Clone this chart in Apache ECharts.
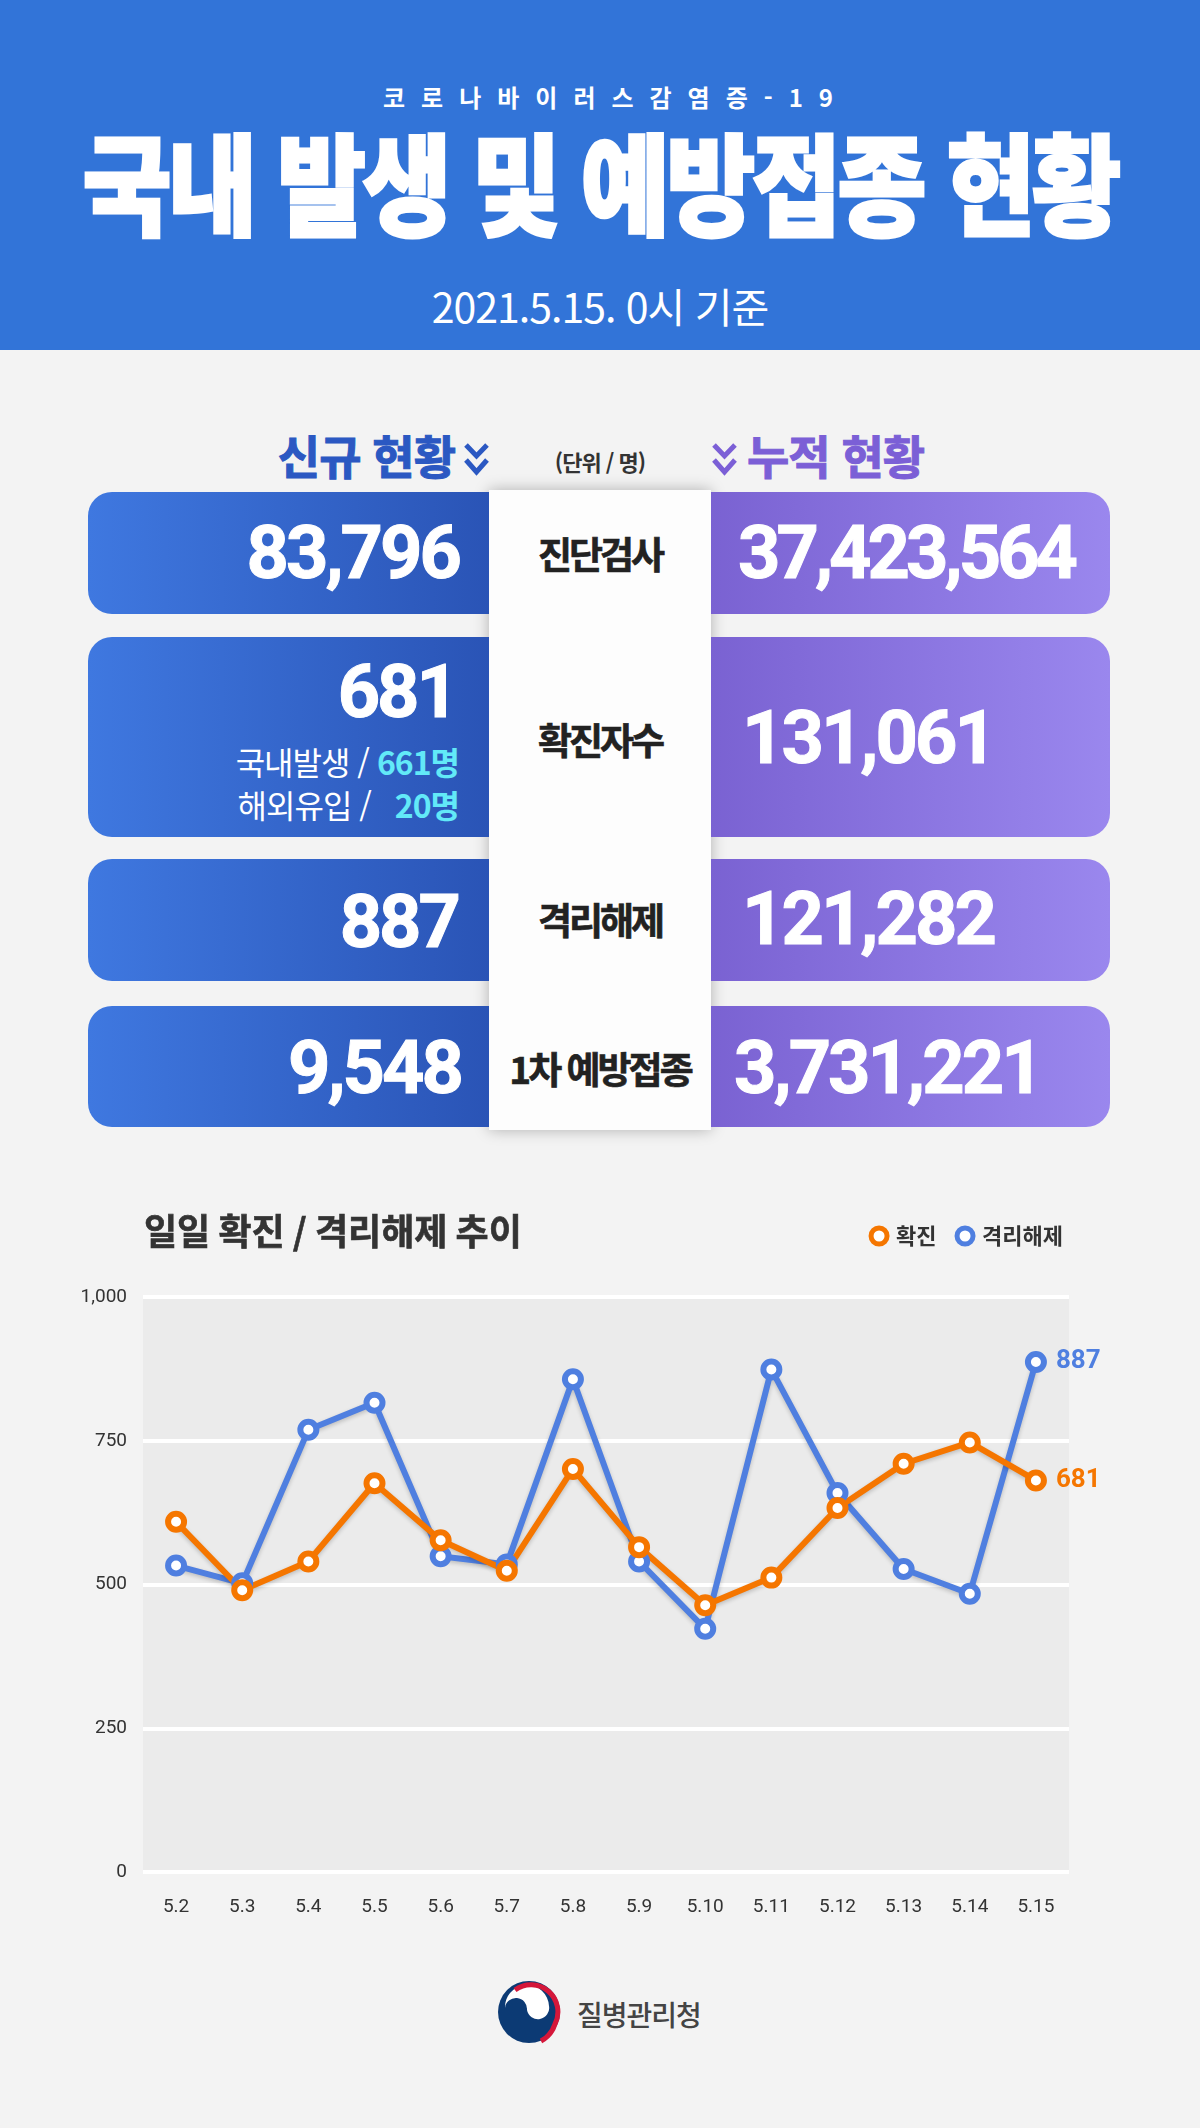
<!DOCTYPE html>
<html lang="ko">
<head>
<meta charset="utf-8">
<title>국내 발생 및 예방접종 현황</title>
<script src="https://cdn.jsdelivr.net/npm/echarts@6/dist/echarts.min.js"></script>
<style>
  html, body { margin: 0; padding: 0; }
  body {
    width: 1200px; height: 2128px; position: relative; overflow: hidden;
    background: #f3f3f3;
    font-family: 'Noto Sans CJK KR', 'Noto Sans', sans-serif;
  }
  .t { position: absolute; white-space: nowrap; line-height: 1; }
  .num { font-family: Roboto, 'Noto Sans', sans-serif; font-weight: 700; color: #fff; font-size: 74px; letter-spacing: -3px; -webkit-text-stroke: 1px #fff; }
  .lbl { font-weight: 700; color: #222; font-size: 37px; letter-spacing: -3px; text-align: center; width: 222px; left: 489px; -webkit-text-stroke: 0.6px #222; }
  .box { position: absolute; }
  .boxL { left: 88px; width: 401px; border-radius: 24px 0 0 24px; background: linear-gradient(90deg, #3f78e0, #2a54b6); }
  .boxR { left: 711px; width: 399px; border-radius: 0 24px 24px 0; background: linear-gradient(90deg, #7a62d2, #9a87ee); }
  .right { text-align: right; }
  #chart { position: absolute; left: 0; top: 1150px; width: 1200px; height: 800px; }
</style>
</head>
<body>

<!-- 상단 헤더 -->
<div style="position:absolute;left:0;top:0;width:1200px;height:350px;background:#3274d8;"></div>
<div class="t" style="left:0;width:1200px;top:85px;text-align:center;color:#fff;font-size:24px;font-weight:700;letter-spacing:16px;padding-left:16px;">코로나바이러스감염증-19</div>
<div class="t" style="left:0;width:1200px;top:124px;text-align:center;color:#fff;font-size:110px;font-weight:900;letter-spacing:-4px;transform:scaleX(0.88);-webkit-text-stroke:3px #fff;">국내 발생 및 예방접종 현황</div>
<div class="t" style="left:0;width:1200px;top:285px;text-align:center;color:#fff;font-size:41px;font-weight:400;letter-spacing:-1px;">2021.5.15. 0시 기준</div>

<!-- 섹션 제목 -->
<div class="t" style="right:745px;top:431px;color:#2b58c2;font-size:46px;font-weight:700;letter-spacing:-1px;-webkit-text-stroke:1px #2b58c2;">신규 현황</div>
<svg style="position:absolute;left:463px;top:442px;" width="27" height="36" viewBox="0 0 27 36">
  <polyline points="3,3 13.5,14 24,3" fill="none" stroke="#2b58c2" stroke-width="5"/>
  <polyline points="3,18 13.5,30 24,18" fill="none" stroke="#2b58c2" stroke-width="5"/>
</svg>
<div class="t" style="left:489px;width:222px;top:450px;text-align:center;color:#333;font-size:22px;font-weight:700;letter-spacing:-1px;">(단위 / 명)</div>
<svg style="position:absolute;left:711px;top:442px;" width="27" height="36" viewBox="0 0 27 36">
  <polyline points="3,3 13.5,14 24,3" fill="none" stroke="#7b5fd6" stroke-width="5"/>
  <polyline points="3,18 13.5,30 24,18" fill="none" stroke="#7b5fd6" stroke-width="5"/>
</svg>
<div class="t" style="left:747px;top:431px;color:#7b5fd6;font-size:46px;font-weight:700;letter-spacing:-1px;-webkit-text-stroke:1px #7b5fd6;">누적 현황</div>

<!-- 가운데 흰 띠 -->
<div style="position:absolute;left:489px;top:490px;width:222px;height:640px;background:#fdfdfd;box-shadow:0 0 14px rgba(0,0,0,0.28);"></div>

<!-- 박스 -->
<div class="box boxL" style="top:492px;height:122px;"></div>
<div class="box boxR" style="top:492px;height:122px;"></div>
<div class="box boxL" style="top:637px;height:200px;"></div>
<div class="box boxR" style="top:637px;height:200px;"></div>
<div class="box boxL" style="top:859px;height:122px;"></div>
<div class="box boxR" style="top:859px;height:122px;"></div>
<div class="box boxL" style="top:1006px;height:121px;"></div>
<div class="box boxR" style="top:1006px;height:121px;"></div>

<!-- 박스 글자 -->
<div class="t num right" style="right:741px;top:516px;">83,796</div>
<div class="t num" style="left:738px;top:516px;letter-spacing:-4px;">37,423,564</div>
<div class="t lbl" style="top:535px;">진단검사</div>

<div class="t num right" style="right:744px;top:655px;">681</div>
<div class="t right" style="right:741px;top:745px;color:#fff;font-size:32px;letter-spacing:-1px;">국내발생 / <b style="color:#62e9f8;">661명</b></div>
<div class="t right" style="right:741px;top:788px;color:#fff;font-size:32px;letter-spacing:-1px;">해외유입 / &nbsp; <b style="color:#62e9f8;">20명</b></div>
<div class="t num" style="left:742px;top:701px;">131,061</div>
<div class="t lbl" style="top:721px;">확진자수</div>

<div class="t num right" style="right:742px;top:885px;">887</div>
<div class="t num" style="left:742px;top:882px;">121,282</div>
<div class="t lbl" style="top:901px;">격리해제</div>

<div class="t num right" style="right:739px;top:1031px;">9,548</div>
<div class="t num" style="left:734px;top:1031px;">3,731,221</div>
<div class="t lbl" style="top:1050px;">1차 예방접종</div>

<!-- 차트 -->
<div id="chart"></div>

<!-- 하단 로고 -->
<svg style="position:absolute;left:496px;top:1979px;" width="66" height="66" viewBox="-33 -33 66 66">
  <circle r="31" fill="#0c3a74"/>
  <path d="M -24 -4 A 22 22 0 0 1 20 -6 A 11 11 0 0 1 -2 -2 A 11 11 0 0 0 -24 -4 Z" fill="#ffffff"/>
  <path d="M -14 -22 A 27 27 0 0 1 26 12 A 29 29 0 0 1 12 29" fill="none" stroke="#d5173a" stroke-width="5"/>
</svg>
<div class="t" style="left:577px;top:2000px;color:#444;font-size:28px;font-weight:500;letter-spacing:-1px;">질병관리청</div>

<script>
// 날짜
const dates = ['5.2', '5.3', '5.4', '5.5', '5.6', '5.7', '5.8', '5.9', '5.10', '5.11', '5.12', '5.13', '5.14', '5.15'];
// 일일 확진
const confirmed = [609, 490, 540, 676, 577, 524, 701, 565, 464, 512, 633, 710, 747, 681];
// 일일 격리해제
const released = [533, 502, 769, 816, 549, 535, 857, 540, 423, 874, 659, 527, 484, 887];
// y축 눈금
const yMin = 0;
const yMax = 1000;
const yStep = 250;

const orange = '#f57600';
const blue = '#4f7fe0';

const chartDom = document.getElementById('chart');
const myChart = echarts.init(chartDom);

// 선 하나의 설정
function lineSeries(name, data, color) {
    return {
        name: name,
        type: 'line',
        data: data,
        symbol: 'circle',
        symbolSize: 16,
        lineStyle: {
            width: 6,
            color: color,
            shadowColor: 'rgba(0,0,0,0.2)',
            shadowBlur: 4,
            shadowOffsetY: 2,
        },
        itemStyle: { color: '#fff', borderColor: color, borderWidth: 6 },
        endLabel: {
            show: true,
            formatter: p => p.value,
            distance: 20,
            color: color,
            fontFamily: 'Roboto',
            fontSize: 26,
            fontWeight: 'bold',
        },
    };
}

const option = {
    animation: false,
    title: {
        text: '일일 확진 / 격리해제 추이',
        left: 139,
        top: 58,
        textStyle: {
            fontFamily: 'Noto Sans CJK KR',
            fontSize: 36,
            fontWeight: 'bold',
            color: '#333',
            textBorderColor: '#333',
            textBorderWidth: 0.6,
        },
    },
    legend: {
        data: ['확진', '격리해제'],
        right: 132,
        top: 70,
        icon: 'circle',
        itemWidth: 16,
        itemHeight: 16,
        itemGap: 18,
        itemStyle: { borderWidth: 5 },
        textStyle: {
            fontFamily: 'Noto Sans CJK KR',
            fontSize: 22,
            fontWeight: 'bold',
            color: '#333',
            padding: [0, 0, 0, 4],
        },
    },
    grid: {
        left: 143,
        right: 131,
        top: 147,
        height: 575,
        show: true,
        backgroundColor: '#ebebeb',
        borderWidth: 0,
    },
    xAxis: {
        type: 'category',
        data: dates,
        boundaryGap: true,
        axisLine: { show: false },
        axisTick: { show: false },
        axisLabel: {
            margin: 26,
            fontFamily: 'Roboto',
            fontSize: 19,
            color: '#333',
        },
    },
    yAxis: {
        type: 'value',
        min: yMin,
        max: yMax,
        interval: yStep,
        axisLine: { show: false },
        axisTick: { show: false },
        axisLabel: {
            margin: 16,
            fontFamily: 'Roboto',
            fontSize: 19,
            color: '#333',
            formatter: v => v.toLocaleString('en-US'),
        },
        splitLine: {
            lineStyle: { color: '#ffffff', width: 4 },
        },
    },
    // 확진 선이 위에 그려지도록 격리해제를 먼저 둔다
    series: [
        lineSeries('격리해제', released, blue),
        lineSeries('확진', confirmed, orange),
    ],
};

myChart.setOption(option);
</script>
</body>
</html>
